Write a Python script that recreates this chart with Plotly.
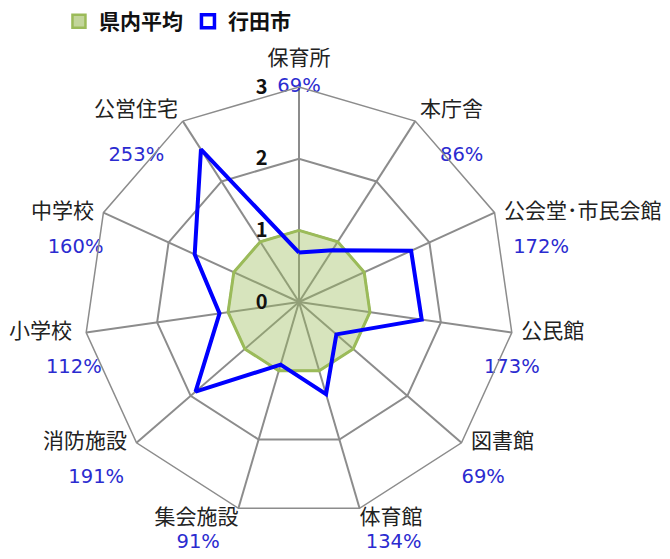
import plotly.graph_objects as go

categories = ["保育所", "本庁舎", "公会堂･市民会館", "公民館", "図書館", "体育館",
              "集会施設", "消防施設", "小学校", "中学校", "公営住宅"]
pref_avg = [1, 1, 1, 1, 1, 1, 1, 1, 1, 1, 1]
gyoda = [0.69, 0.86, 1.72, 1.73, 0.69, 1.34, 0.91, 1.91, 1.12, 1.60, 2.53]
series_names = ["県内平均", "行田市"]
radial_ticks = [0, 1, 2, 3]

# label placement around each spoke end (style only)
name_positions = ["top center", "top right", "middle right", "middle right",
                  "middle right", "bottom right", "bottom left", "middle left",
                  "middle left", "middle left", "top left"]
name_pad = [0, 1, 2, 2, 2, 0, 0, 2, 3, 2, 1]          # non-breaking spaces
pct_positions = ["middle center", "bottom right", "bottom right", "bottom center",
                 "bottom right", "bottom right", "bottom left", "bottom left",
                 "bottom center", "bottom left", "bottom left"]
pct_pad = [0, 4, 3, 0, 0, 1, 3, 2, 4, 0, 3]

FONT = "Noto Sans CJK JP, Noto Sans, sans-serif"
NUM_FONT = "DejaVu Sans, Noto Sans CJK JP, sans-serif"
PCT_COLOR = "#2b2bd0"
GREEN_LINE = "#9bbb59"
BLUE = "#0000ff"
GRID = "#8c8c8c"
NB = "\u00a0"
NAME_SIZE = 21
TOP_SPACING_SIZE = 14   # sets the line step used to lift the top label

theta = categories + [categories[0]]
r_max = radial_ticks[-1]


def name_label(i, c):
    pos = name_positions[i]
    pad = NB * name_pad[i]
    if pos == "top center":
        return f"<span style='font-size:{NAME_SIZE}px'>{c}</span><br> "
    if pos.endswith("left"):
        return c + pad
    return pad + c


def pct_label(i, v):
    s = f"{round(v * 100)}%"
    pos = pct_positions[i]
    pad = NB * pct_pad[i]
    body = (pad + s) if pos.endswith("right") else (s + pad)
    return body if pos.startswith("middle") else "<br>" + body


name_sizes = [TOP_SPACING_SIZE if p == "top center" else NAME_SIZE for p in name_positions]

fig = go.Figure()
fig.add_trace(go.Scatterpolar(
    r=pref_avg + [pref_avg[0]], theta=theta, name=series_names[0],
    mode="lines", fill="toself", fillcolor="rgba(155,187,89,0.4)",
    line=dict(color=GREEN_LINE, width=3), showlegend=False,
))
fig.add_trace(go.Scatterpolar(
    r=gyoda + [gyoda[0]], theta=theta, name=series_names[1],
    mode="lines", line=dict(color=BLUE, width=4), showlegend=False,
))
# category names at the outer ring
fig.add_trace(go.Scatterpolar(
    r=[r_max] * len(categories), theta=categories, mode="text",
    text=[name_label(i, c) for i, c in enumerate(categories)],
    textposition=name_positions,
    textfont=dict(family=FONT, size=name_sizes, color="#222"),
    showlegend=False, hoverinfo="skip", cliponaxis=False,
))
# percentage labels
fig.add_trace(go.Scatterpolar(
    r=[r_max] * len(categories), theta=categories, mode="text",
    text=[pct_label(i, v) for i, v in enumerate(gyoda)],
    textposition=pct_positions,
    textfont=dict(family=NUM_FONT, size=19.5, color=PCT_COLOR),
    showlegend=False, hoverinfo="skip", cliponaxis=False,
))
# legend entries with square symbols
fig.add_trace(go.Scatterpolar(
    r=[None], theta=[None], mode="markers", name=series_names[0],
    marker=dict(symbol="square", size=13, color="#c3d69b",
                line=dict(color=GREEN_LINE, width=2.5)),
))
fig.add_trace(go.Scatterpolar(
    r=[None], theta=[None], mode="markers", name=series_names[1],
    marker=dict(symbol="square", size=13, color="white",
                line=dict(color=BLUE, width=3.5)),
))

fig.update_layout(
    width=670, height=559,
    margin=dict(l=0, r=0, t=0, b=0),
    paper_bgcolor="white",
    font=dict(family=FONT, size=19, color="#222"),
    showlegend=True,
    legend=dict(orientation="h", x=0.088, y=0.998, xanchor="left", yanchor="top",
                font=dict(family=FONT, size=21, color="#111", weight="bold"),
                itemwidth=30, tracegroupgap=0),
    polar=dict(
        domain=dict(x=[84/670, 514/670], y=[1-517/559, 1-87/559]),
        gridshape="linear",
        bgcolor="white",
        angularaxis=dict(
            rotation=90, direction="clockwise",
            tickvals=categories, showticklabels=False,
            showline=True, linecolor=GRID, linewidth=1.5,
            gridcolor=GRID, gridwidth=1.5,
            ticks="",
        ),
        radialaxis=dict(
            range=[0, r_max], tickvals=radial_ticks, ticktext=[str(t) for t in radial_ticks],
            angle=90, tickangle=90, side="counterclockwise",
            tickfont=dict(family=FONT, size=20, color="#111", weight="bold"),
            showline=False, gridcolor=GRID, gridwidth=1.5,
            ticks="outside", ticklen=24, tickcolor="rgba(0,0,0,0)",
        ),
    ),
)

fig.write_html("out.html", config={"displayModeBar": False},
               post_script="document.body.style.margin='0';")
